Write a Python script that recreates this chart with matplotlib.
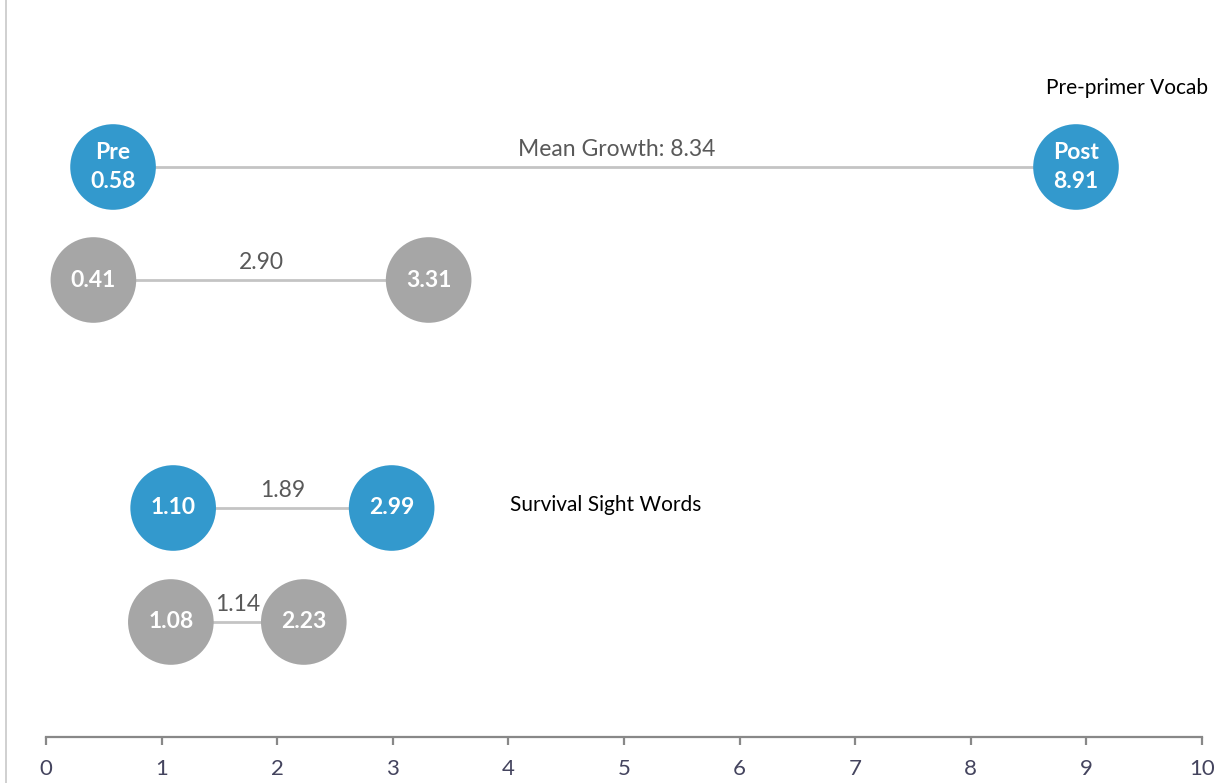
import matplotlib.pyplot as plt
from matplotlib.lines import Line2D

plt.rcParams['font.family'] = ['Lato', 'DejaVu Sans']

# Mean scores, pre and post, for each group
pre_scores = [0.58, 0.41, 1.10, 1.08]
post_scores = [8.91, 3.31, 2.99, 2.23]
growth = [8.34, 2.90, 1.89, 1.14]
highlight = [True, False, True, False]

# vertical placement of each row (axis units)
row_y = [570, 457, 229, 115]

blue = '#3399cd'
grey = '#a6a6a6'

fig = plt.figure(figsize=(12.25, 7.83), dpi=100)
ax = fig.add_axes([46 / 1225, 46 / 783, 1156 / 1225, 737 / 783])
ax.set_xlim(0, 10)
ax.set_ylim(0, 737)

for i, (a, b) in enumerate(zip(pre_scores, post_scores)):
    y = row_y[i]
    col = blue if highlight[i] else grey
    ax.plot([a, b], [y, y], color='#c4c4c4', lw=2, zorder=1)
    ax.scatter([a, b], [y, y], s=3800, color=col, edgecolors='none', zorder=2)
    if i == 0:
        pre_txt = 'Pre\n%.2f' % a
        post_txt = 'Post\n%.2f' % b
        lbl = 'Mean Growth: %.2f' % growth[i]
        dx = 16
    else:
        pre_txt = '%.2f' % a
        post_txt = '%.2f' % b
        lbl = '%.2f' % growth[i]
        dx = 0
    for x, t in ((a, pre_txt), (b, post_txt)):
        ax.text(x, y, t, ha='center', va='center', color='white',
                fontsize=16.5, fontweight='bold', linespacing=1.5, zorder=3)
    ax.annotate(lbl, xy=((a + b) / 2, y), xytext=(dx, 5), textcoords='offset points',
                ha='center', va='bottom', color='#595959', fontsize=16.5)

ax.text(9.35, 649, 'Pre-primer Vocab', ha='center', va='center', fontsize=15, color='black')
ax.text(4.84, 232, 'Survival Sight Words', ha='center', va='center', fontsize=15, color='black')

for s in ('top', 'right', 'left'):
    ax.spines[s].set_visible(False)
ax.spines['bottom'].set_color('#888888')
ax.spines['bottom'].set_linewidth(1.6)
ax.set_yticks([])
ax.set_xticks(range(11))
ax.tick_params(axis='x', direction='out', length=6, width=1.6, color='#888888',
               labelsize=16, labelcolor='#44445e', pad=10)

# thin frame line down the left edge
fig.add_artist(Line2D([6 / 1225, 6 / 1225], [0, 1], color='#c8c8c8', lw=1.2))

fig.savefig('out.png', dpi=100)
